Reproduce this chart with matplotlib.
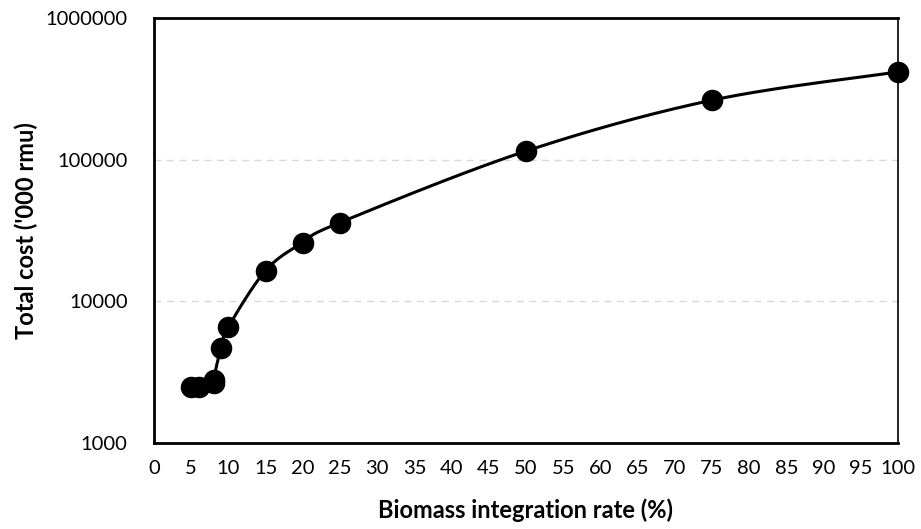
import numpy as np
import matplotlib
matplotlib.use("Agg")
import matplotlib.pyplot as plt
from matplotlib.ticker import FixedLocator, FixedFormatter, NullLocator

rate = [5, 6, 8, 8, 9, 10, 15, 20, 25, 50, 75, 100]
cost = [2500, 2500, 2650, 2800, 4700, 6600, 16500, 26000, 36000, 115000, 263000, 416000]
x_ticks = list(range(0, 101, 5))
y_ticks = [1000, 10000, 100000, 1000000]
y_labels = ["1000", "10000", "100000", "1000000"]

plt.rcParams['font.family'] = ['Lato', 'DejaVu Sans']

fig = plt.figure(figsize=(9.21, 5.29), dpi=100)
ax = fig.add_axes([154/921, 1-443/529, (898-154)/921, (443-18)/529])
ax.set_yscale('log')
ax.set_xlim(0, 100)
ax.set_ylim(1000, 1000000)


def catmull(xs, ys, n=30):
    px = np.array(xs, float)
    py = np.log10(np.array(ys, float))
    P = np.column_stack([px / 100.0 * 7.44, py * 1.413])
    P = np.vstack([P[0], P, P[-1]])
    out = []
    for i in range(1, len(P) - 2):
        p0, p1, p2, p3 = P[i-1], P[i], P[i+1], P[i+2]
        t = np.linspace(0, 1, n)[:, None]
        seg = 0.5 * ((2*p1) + (-p0 + p2)*t + (2*p0 - 5*p1 + 4*p2 - p3)*t**2 + (-p0 + 3*p1 - 3*p2 + p3)*t**3)
        out.append(seg)
    S = np.vstack(out)
    return S[:, 0] * 100.0 / 7.44, 10 ** (S[:, 1] / 1.413)

sx, sy = catmull(rate, cost)
ax.plot(sx, sy, color='black', lw=2.2, zorder=3)
ax.plot(rate, cost, 'o', color='black', ms=14.5, zorder=4, clip_on=False)

for v in [10000, 100000]:
    ax.axhline(v, color='#d9d9d9', lw=1, ls=(0, (5, 4)), zorder=1)

ax.yaxis.set_major_locator(FixedLocator(y_ticks))
ax.yaxis.set_major_formatter(FixedFormatter(y_labels))
ax.yaxis.set_minor_locator(NullLocator())
ax.set_xticks(x_ticks)
ax.tick_params(axis='both', length=0, labelsize=14.5, colors='black')
ax.tick_params(axis='x', pad=12)
ax.tick_params(axis='y', pad=19)

for s in ['left', 'bottom', 'top']:
    ax.spines[s].set_linewidth(2)
    ax.spines[s].set_color('black')
ax.spines['right'].set_linewidth(1.2)
ax.spines['right'].set_color('black')

ax.set_xlabel("Biomass integration rate (%)", fontsize=17, fontweight='bold', labelpad=16)
ax.set_ylabel("Total cost ('000 rmu)", fontsize=17, fontweight='bold', labelpad=5)

fig.savefig("out.png", dpi=100)
